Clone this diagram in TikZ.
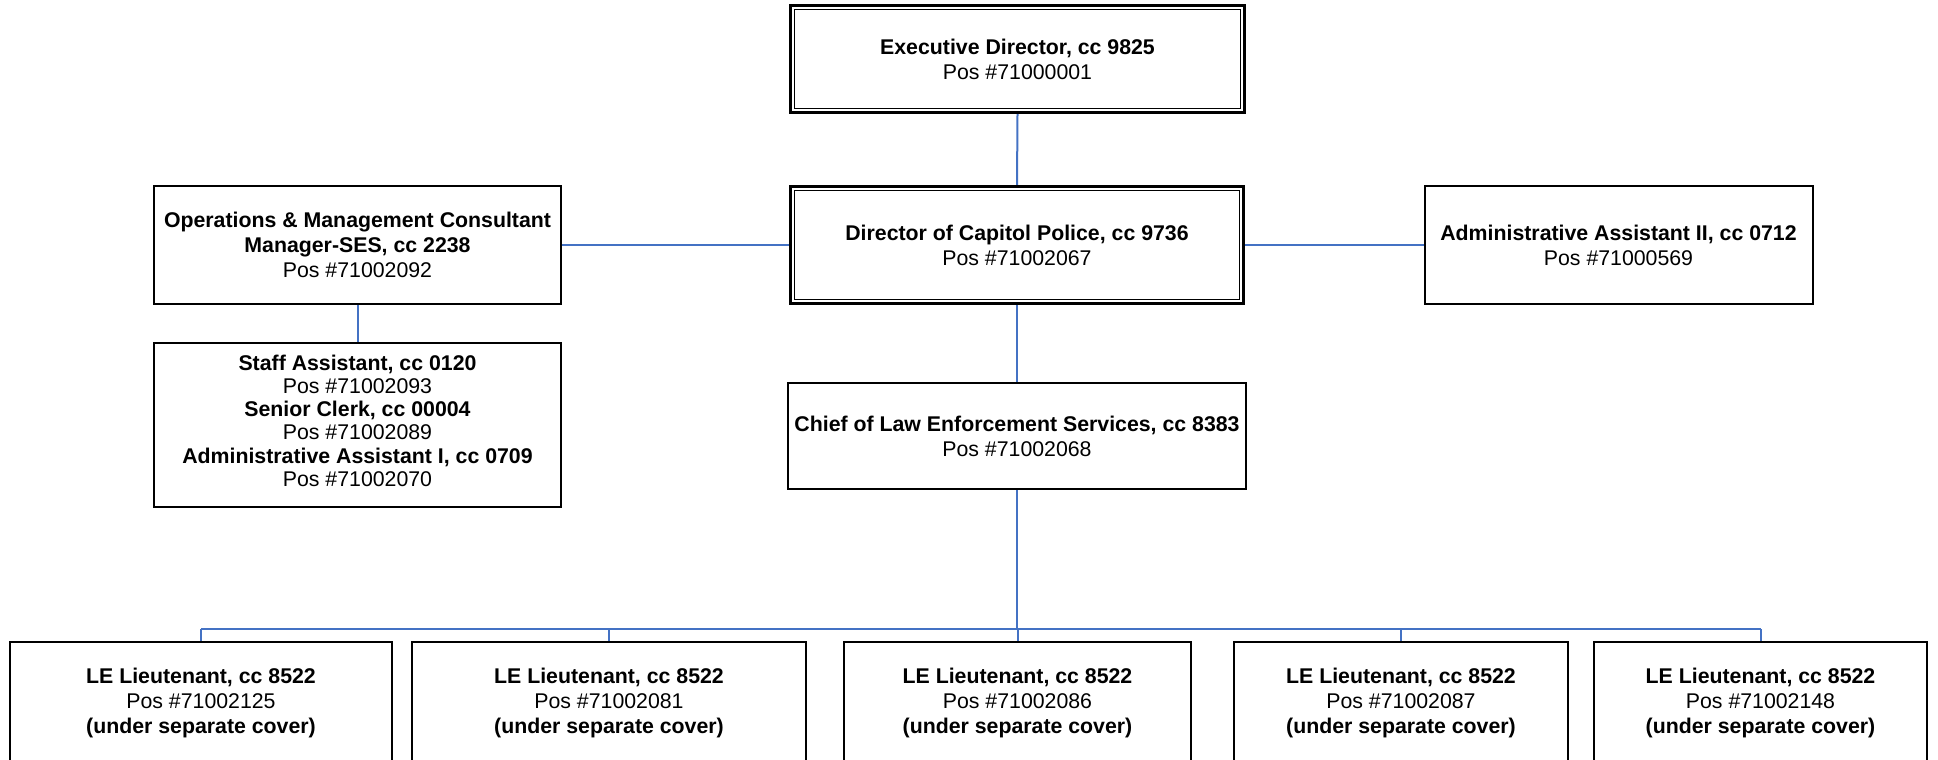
\documentclass[tikz,border=0pt]{standalone}
\usepackage{fontspec}
\setmainfont{Liberation Sans}
\usetikzlibrary{backgrounds}
\definecolor{linkblue}{RGB}{68,114,196}
\begin{document}
\begin{tikzpicture}[x=1pt,y=-1pt,
  box/.style={draw=black, line width=2pt, inner sep=0pt, align=center,
    font=\fontsize{21.3}{25}\selectfont},
  dbox/.style={box, line width=2.7pt},
  conn/.style={draw=linkblue, line width=2pt}]
\useasboundingbox (0,0) rectangle (1938,760);
\clip (0,0) rectangle (1938,760);

% top of the chart: double-ruled boxes
\node[dbox, minimum width=454.3pt, minimum height=107.3pt] (exec) at (1017.5,59)
  {\textbf{Executive Director, cc 9825}\\Pos \#71000001};
\node[dbox, minimum width=453.3pt, minimum height=117.3pt] (dir) at (1017,245)
  {\textbf{Director of Capitol Police, cc 9736}\\Pos \#71002067};
\foreach \n in {exec,dir}
  \draw[line width=1.3pt] ([shift={(5.3pt,-5.3pt)}]\n.north west) rectangle ([shift={(-5.3pt,5.3pt)}]\n.south east);

% side offices
\node[box, minimum width=407pt, minimum height=118pt] (ops) at (357.5,245)
  {\textbf{Operations \& Management Consultant}\\\textbf{Manager-SES, cc 2238}\\Pos \#71002092};
\node[box, minimum width=407pt, minimum height=164pt,
  font=\fontsize{21.3}{23.2}\selectfont] (staff) at (357.5,425)
  {\textbf{Staff Assistant, cc 0120}\\Pos \#71002093\\\textbf{Senior Clerk, cc 00004}\\Pos \#71002089\\\textbf{Administrative Assistant I, cc 0709}\\Pos \#71002070\rule[-9pt]{0pt}{0pt}};
\node[box, minimum width=388pt, minimum height=118pt] (adm) at (1618.5,245)
  {\textbf{Administrative Assistant II, cc 0712}\\Pos \#71000569};

% law enforcement branch
\node[box, minimum width=458pt, minimum height=106pt] (chief) at (1017,436)
  {\textbf{Chief of Law Enforcement Services, cc 8383}\\Pos \#71002068};

\node[box, minimum width=382pt, minimum height=122pt] (lt1) at (201,703)
  {\textbf{LE Lieutenant, cc 8522}\\Pos \#71002125\\\textbf{(under separate cover)}};
\node[box, minimum width=394pt, minimum height=122pt] (lt2) at (609,703)
  {\textbf{LE Lieutenant, cc 8522}\\Pos \#71002081\\\textbf{(under separate cover)}};
\node[box, minimum width=347pt, minimum height=122pt] (lt3) at (1017.5,703)
  {\textbf{LE Lieutenant, cc 8522}\\Pos \#71002086\\\textbf{(under separate cover)}};
\node[box, minimum width=334pt, minimum height=122pt] (lt4) at (1401,703)
  {\textbf{LE Lieutenant, cc 8522}\\Pos \#71002087\\\textbf{(under separate cover)}};
\node[box, minimum width=333pt, minimum height=122pt] (lt5) at (1760.5,703)
  {\textbf{LE Lieutenant, cc 8522}\\Pos \#71002148\\\textbf{(under separate cover)}};

\coordinate (bus) at (0,629);

\begin{pgfonlayer}{background}
  \draw[conn] (exec.south) -- (dir.north);
  \draw[conn] (dir.west) -- (ops.east);
  \draw[conn] (dir.east) -- (adm.west);
  \draw[conn] (ops.south) -- (staff.north);
  \draw[conn] (dir.south) -- (chief.north);
  \draw[conn] (chief.south) -- (chief.south |- bus);
  \draw[conn] (lt1.north |- bus) -- (lt5.north |- bus);
  \foreach \n in {lt1,lt2,lt3,lt4,lt5}
    \draw[conn] (\n.north |- bus) -- (\n.north);
\end{pgfonlayer}
\end{tikzpicture}
\end{document}
